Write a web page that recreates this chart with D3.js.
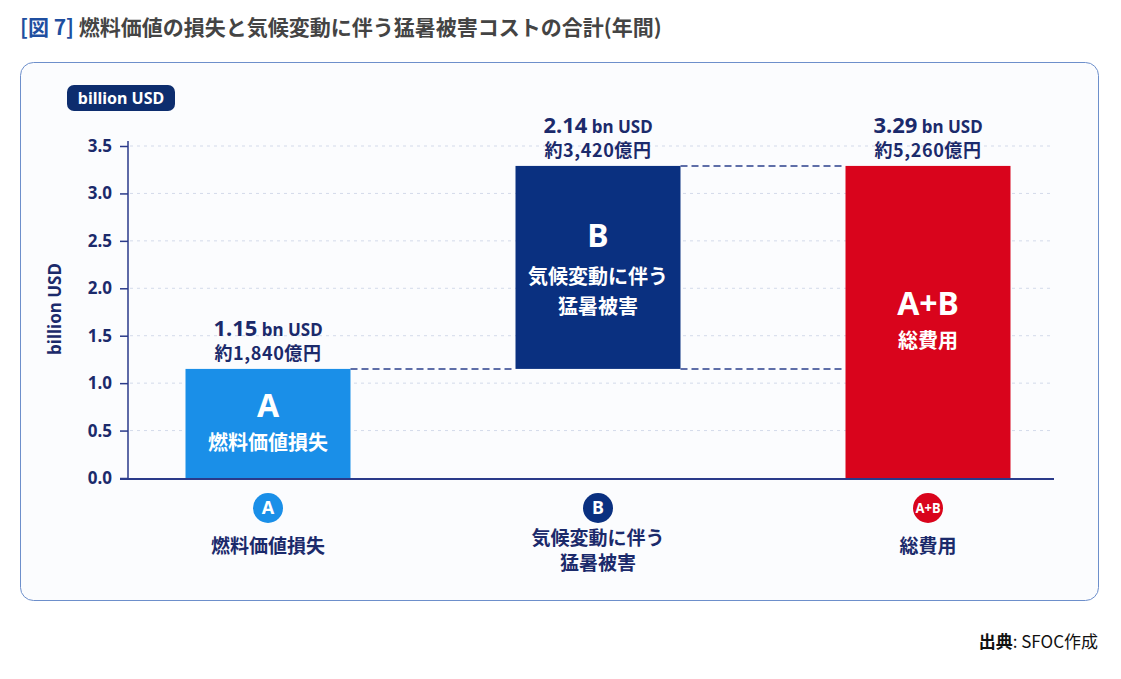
<!DOCTYPE html>
<html>
<head>
<meta charset="utf-8">
<script src="https://cdn.jsdelivr.net/npm/d3@7"></script>
<style>
  body { margin: 0; background: #fff; }
  svg { display: block; font-family: "Noto Sans CJK JP", "Noto Sans", sans-serif; }
</style>
</head>
<body>
<svg id="frame" width="1121" height="679"></svg>
<script>
// chart data
const categories = ["A", "B", "A+B"];
const barLabels = [["燃料価値損失"], ["気候変動に伴う", "猛暑被害"], ["総費用"]];
const barStart = [0, 1.15, 0];
const barEnd = [1.15, 3.29, 3.29];
const usdLabels = ["1.15", "2.14", "3.29"];
const yenLabels = ["約1,840億円", "約3,420億円", "約5,260億円"];
const yTicks = [0, 0.5, 1, 1.5, 2, 2.5, 3, 3.5];
const colors = ["#1a8fe8", "#0a3080", "#d9041c"];

const navy = "#1b2a6b";
const svg = d3.select("#frame");

// title
const title = svg.append("text").attr("x", 20).attr("y", 35)
  .attr("font-size", 21).attr("font-weight", 700);
title.append("tspan").attr("fill", "#1f4fa0").text("[図 7] ");
title.append("tspan").attr("fill", "#444").text("燃料価値の損失と気候変動に伴う猛暑被害コストの合計(年間)");

// panel
svg.append("rect").attr("x", 20.5).attr("y", 62.5).attr("width", 1078).attr("height", 538)
  .attr("rx", 13).attr("fill", "#fbfcfe").attr("stroke", "#6d8fcb").attr("stroke-width", 1);

// unit pill
svg.append("rect").attr("x", 67).attr("y", 85).attr("width", 108).attr("height", 26)
  .attr("rx", 7).attr("fill", "#0d2d6e");
svg.append("text").attr("x", 121).attr("y", 104).attr("text-anchor", "middle")
  .attr("fill", "#fff").attr("font-size", 16).attr("font-weight", 700)
  .attr("font-family", "'Noto Sans', sans-serif").text("billion USD");

// scales
const y = d3.scaleLinear().domain([0, 3.5]).range([478, 146]);
const x = d3.scaleBand().domain(categories).range([103, 1093])
  .paddingInner(0.5).paddingOuter(0.25);

// grid
svg.append("g").selectAll("line").data(yTicks.slice(1)).join("line")
  .attr("x1", 130).attr("x2", 1054)
  .attr("y1", d => y(d)).attr("y2", d => y(d))
  .attr("stroke", "#d3daea").attr("stroke-dasharray", "3,4");

// y axis
const yAxis = svg.append("g").attr("transform", "translate(128,0)")
  .call(d3.axisLeft(y).tickValues(yTicks).tickFormat(d3.format(".1f")).tickSize(8).tickPadding(8));
yAxis.select(".domain").attr("stroke", "#2a3a8a").attr("stroke-width", 1.5).attr("d", "M0,141V478");
yAxis.selectAll(".tick line").attr("stroke", "#2a3a8a").attr("stroke-width", 1.5);
yAxis.selectAll(".tick text").attr("fill", navy).attr("font-size", 17).attr("font-weight", 700)
  .attr("font-family", "'Noto Sans', sans-serif");

svg.append("text").attr("transform", "translate(61,309) rotate(-90)")
  .attr("text-anchor", "middle").attr("fill", navy).attr("font-size", 17).attr("font-weight", 700)
  .attr("font-family", "'Noto Sans', sans-serif").text("billion USD");

// bars
svg.append("g").selectAll("rect").data(categories).join("rect")
  .attr("x", d => x(d)).attr("width", x.bandwidth())
  .attr("y", (d, i) => y(barEnd[i]))
  .attr("height", (d, i) => y(barStart[i]) - y(barEnd[i]))
  .attr("fill", (d, i) => colors[i]);

// baseline
svg.append("line").attr("x1", 120).attr("x2", 1054).attr("y1", y(0) + 1).attr("y2", y(0) + 1)
  .attr("stroke", "#2a3a8a").attr("stroke-width", 2);

// connectors
const conn = [
  [x("A") + x.bandwidth(), x("B"), barEnd[0]],
  [x("B") + x.bandwidth(), x("A+B"), barStart[1]],
  [x("B") + x.bandwidth(), x("A+B"), barEnd[1]]
];
svg.append("g").selectAll("line").data(conn).join("line")
  .attr("x1", d => d[0]).attr("x2", d => d[1])
  .attr("y1", d => y(d[2])).attr("y2", d => y(d[2]))
  .attr("stroke", "#2b3f8c").attr("stroke-width", 1.5).attr("stroke-dasharray", "7,4");

categories.forEach((c, i) => {
  const cx = x(c) + x.bandwidth() / 2;
  const top = y(barEnd[i]);

  // value labels above bars
  const t = svg.append("text").attr("x", cx).attr("y", top - 33).attr("text-anchor", "middle")
    .attr("fill", navy).attr("font-weight", 700).attr("font-family", "'Noto Sans', sans-serif");
  t.append("tspan").attr("font-size", 22).text(usdLabels[i]);
  t.append("tspan").attr("font-size", 17).text(" bn USD");
  svg.append("text").attr("x", cx).attr("y", top - 9).attr("text-anchor", "middle")
    .attr("fill", navy).attr("font-size", 18).attr("font-weight", 700)
    .attr("letter-spacing", 0.6).text(yenLabels[i]);

  // text inside bars
  const lines = barLabels[i];
  const n = lines.length;
  const mid = (y(barStart[i]) + y(barEnd[i])) / 2;
  const letterY = mid - 18 - 14 * (n - 1);
  svg.append("text").attr("x", cx).attr("y", letterY).attr("dy", "0.36em")
    .attr("text-anchor", "middle").attr("fill", "#fff").attr("font-size", 32).attr("font-weight", 700)
    .attr("font-family", "'Noto Sans', sans-serif").text(c);
  lines.forEach((l, j) => {
    svg.append("text").attr("x", cx).attr("y", letterY + 37 + (n - 1) * 4 + j * 30).attr("dy", "0.36em")
      .attr("text-anchor", "middle").attr("fill", "#fff").attr("font-size", 20)
      .attr("font-weight", 700).text(l);
  });

  // legend below axis
  svg.append("circle").attr("cx", cx).attr("cy", 508).attr("r", 15).attr("fill", colors[i]);
  const lt = svg.append("text").attr("x", cx).attr("y", 508).attr("dy", "0.36em")
    .attr("text-anchor", "middle").attr("fill", "#fff").attr("font-weight", 700)
    .attr("font-size", c.length > 1 ? 15 : 18)
    .attr("font-family", "'Noto Sans', sans-serif").text(c);
  if (c.length > 1) lt.attr("textLength", 25).attr("lengthAdjust", "spacingAndGlyphs");
  lines.forEach((l, j) => {
    svg.append("text").attr("x", cx).attr("y", (n > 1 ? 538 : 546) + j * 25).attr("dy", "0.36em")
      .attr("text-anchor", "middle").attr("fill", navy).attr("font-size", 19)
      .attr("font-weight", 700).text(l);
  });
});

// source
const src = svg.append("text").attr("x", 1098).attr("y", 648).attr("text-anchor", "end")
  .attr("font-size", 17).attr("fill", "#111");
src.append("tspan").attr("font-weight", 700).text("出典");
src.append("tspan").text(": SFOC作成");
</script>
</body>
</html>
